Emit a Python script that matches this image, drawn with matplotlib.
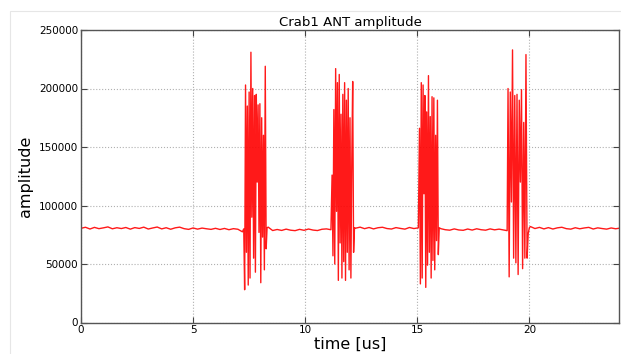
import numpy as np
import matplotlib
matplotlib.use("Agg")
import matplotlib.pyplot as plt
from matplotlib.patches import Rectangle

# ── baseline segments (value every 0.2 us) ─────────────────────────────
base0_start = 0.0
base0 = [80500, 81400, 79900, 81300, 80200, 80900, 81700, 80100, 81000, 80300,
         81200, 79800, 81100, 80400, 81500, 79900, 80800, 81600, 80000, 81000,
         79700, 80900, 81500, 80200, 79600, 80800, 79800, 80700, 80100, 79600,
         80500, 79500, 80400, 79300, 80200, 79700, 77500]
base1_start = 8.35
base1 = [81500, 78600, 79500, 78700, 79800, 78900, 78500, 79600, 78800, 79900,
         79000, 78600, 79700, 80000, 79300]
base2_start = 12.25
base2 = [80600, 81500, 80200, 81200, 80000, 81000, 81400, 80300, 79900, 81100,
         80400, 79800, 81200, 80300, 80900]
base3_start = 16.05
base3 = [80200, 79300, 78900, 80000, 79100, 78800, 79900, 79000, 80100, 79300,
         78900, 80000, 79200, 79800, 79100]
base4_start = 20.05
base4 = [82000, 80300, 81300, 80000, 81100, 79900, 80900, 81400, 80200, 79800,
         81000, 80100, 80800, 81300, 79900, 80900, 80300, 79800, 80800, 80100, 80700]

# ── bursts ─────────────────────────────────────────────────────────────
burst1_t = [7.26, 7.30, 7.34, 7.38, 7.42, 7.46, 7.50, 7.54, 7.58, 7.62, 7.66, 7.70,
            7.74, 7.78, 7.82, 7.86, 7.90, 7.94, 7.98, 8.02, 8.06, 8.10, 8.14, 8.18,
            8.22, 8.26, 8.30]
burst1_v = [80000, 28000, 203000, 60000, 185000, 32000, 197000, 38000, 231000, 90000,
            200000, 55000, 194000, 43000, 195000, 120000, 186000, 77000, 187000, 34000,
            175000, 73000, 160000, 45000, 219000, 63000, 81000]
burst2_t = [11.20, 11.24, 11.28, 11.32, 11.36, 11.40, 11.44, 11.48, 11.52, 11.56,
            11.60, 11.64, 11.68, 11.72, 11.76, 11.80, 11.84, 11.88, 11.92, 11.96,
            12.00, 12.04, 12.08, 12.12, 12.16, 12.20]
burst2_v = [126000, 57000, 182000, 50000, 217000, 95000, 205000, 36000, 212000, 68000,
            178000, 38000, 195000, 52000, 205000, 36000, 190000, 60000, 200000, 45000,
            175000, 38000, 140000, 206000, 60000, 81000]
burst3_t = [15.10, 15.14, 15.18, 15.22, 15.26, 15.30, 15.34, 15.38, 15.42, 15.46,
            15.50, 15.54, 15.58, 15.62, 15.66, 15.70, 15.74, 15.78, 15.82, 15.86,
            15.90, 15.94, 15.98]
burst3_v = [166000, 33000, 205000, 38000, 203000, 110000, 194000, 30000, 180000, 49000,
            211000, 60000, 176000, 38000, 193000, 53000, 192000, 45000, 160000, 70000,
            190000, 58000, 81000]
burst4_t = [19.01, 19.05, 19.10, 19.15, 19.20, 19.25, 19.30, 19.35, 19.40, 19.45,
            19.50, 19.55, 19.60, 19.65, 19.70, 19.75, 19.80, 19.85, 19.90, 19.95,
            20.00]
burst4_v = [78500, 200000, 39000, 197000, 103000, 233000, 55000, 194000, 51000, 195000,
            41000, 190000, 120000, 199000, 46000, 171000, 55000, 229000, 55000, 76000,
            81000]

STEP = 0.2

def seg(start, vals):
    return start + STEP * np.arange(len(vals)), np.array(vals, dtype=float)

pieces = [seg(base0_start, base0), (np.array(burst1_t), np.array(burst1_v)),
          seg(base1_start, base1), (np.array(burst2_t), np.array(burst2_v)),
          seg(base2_start, base2), (np.array(burst3_t), np.array(burst3_v)),
          seg(base3_start, base3), (np.array(burst4_t), np.array(burst4_v)),
          seg(base4_start, base4)]
t = np.concatenate([p[0] for p in pieces])
amp = np.concatenate([p[1] for p in pieces])

fig = plt.figure(figsize=(6.21, 3.54), dpi=100)
fig.patches.append(Rectangle((10 / 621, -0.1), 1.2, 1 - 11 / 354 + 0.1,
                             transform=fig.transFigure, fill=False,
                             ec="#e6e6e6", lw=0.8))
ax = fig.add_axes([81 / 621, 31.5 / 354, 538 / 621, 292.5 / 354])

ax.plot(t, amp, color="red", lw=1.0, alpha=0.9)

ax.set_xlim(0, 24)
ax.set_ylim(0, 250000)
ax.set_xticks([0, 5, 10, 15, 20])
ax.set_yticks(np.arange(0, 250001, 50000))
ax.tick_params(direction="in", top=True, right=True, labelsize=7.5,
               length=4, color="#444444", pad=2)
ax.grid(True, ls=":", color="#b0b0b0", lw=0.8)
for s in ax.spines.values():
    s.set_color("#555555")
    s.set_linewidth(1.0)

ax.set_title("Crab1 ANT amplitude", fontsize=9.5, pad=3)
ax.set_xlabel("time [us]", fontsize=11.5, labelpad=1)
ax.set_ylabel("amplitude", fontsize=11.5, labelpad=4)

fig.savefig("out.png", dpi=100)
